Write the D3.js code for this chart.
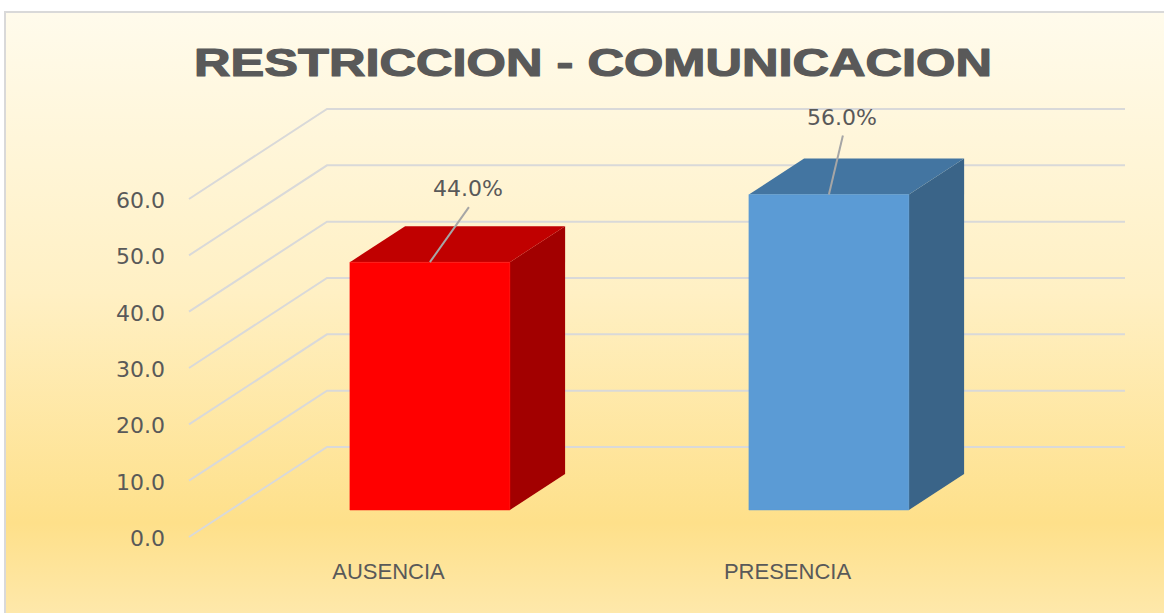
<!DOCTYPE html>
<html>
<head>
<meta charset="utf-8">
<script src="https://cdn.jsdelivr.net/npm/d3@7"></script>
<style>
  html, body { margin: 0; padding: 0; background: #fff; }
  svg { display: block; }
</style>
</head>
<body>
<div id="chart"></div>
<script>
// data
var categories = ["AUSENCIA", "PRESENCIA"]
var values = [44.0, 56.0]
var tickValues = [0, 10, 20, 30, 40, 50, 60]
var titleText = "RESTRICCION - COMUNICACION"

// colours for each bar: front, top, side
var faceColors = [
  { front: "#ff0000", top: "#c00000", side: "#a20000" },
  { front: "#5b9bd5", top: "#4375a1", side: "#3a6488" }
]
// manual nudges of the data labels (like the dragged labels in the original)
var labelNudge = [[38, -66], [13, -70]]

var W = 1164, H = 613
var svg = d3.select("#chart")
  .append("svg")
  .attr("width", W)
  .attr("height", H)

// background gradient
var defs = svg.append("defs")
var grad = defs.append("linearGradient")
  .attr("id", "bg")
  .attr("x1", 0).attr("y1", 0).attr("x2", 0).attr("y2", 1)
grad.append("stop").attr("offset", "0%").attr("stop-color", "#fffbec")
grad.append("stop").attr("offset", "45%").attr("stop-color", "#fff0c4")
grad.append("stop").attr("offset", "82%").attr("stop-color", "#fee08a")
grad.append("stop").attr("offset", "100%").attr("stop-color", "#feeab2")

svg.append("rect")
  .attr("x", 5).attr("y", 12)
  .attr("width", W + 10).attr("height", H + 10)
  .attr("fill", "url(#bg)")
  .attr("stroke", "#d9d9d9")
  .attr("stroke-width", 2)

// pseudo 3d: front plane scales plus a depth offset
var depthX = 138, depthY = -90
var y = d3.scaleLinear().domain([0, 60]).range([537, 199])
var x = d3.scaleBand().domain(categories).range([189, 987])
function proj(px, v, d) {
  return [px + d * depthX, y(v) + d * depthY]
}

// gridlines: side wall + back wall
var grid = svg.append("g")
grid.selectAll("path")
  .data(tickValues)
  .enter()
  .append("path")
  .attr("d", function (t) {
    return d3.line()([proj(x.range()[0], t, 0), proj(x.range()[0], t, 1), proj(x.range()[1], t, 1)])
  })
  .attr("fill", "none")
  .attr("stroke", "#d9d9d9")
  .attr("stroke-width", 2)

// y tick labels
svg.append("g").selectAll("text")
  .data(tickValues)
  .enter()
  .append("text")
  .attr("x", 165)
  .attr("y", function (t) { return y(t) + 9 })
  .attr("text-anchor", "end")
  .attr("font-family", "DejaVu Sans")
  .attr("font-size", 22)
  .attr("fill", "#595959")
  .text(function (t) { return d3.format(".1f")(t) })

// bars
var d0 = 0.3, d1 = 0.7, barW = 160
var bars = svg.append("g").selectAll("g")
  .data(categories)
  .enter()
  .append("g")

bars.each(function (c, i) {
  var g = d3.select(this)
  var cx = x(c) + x.bandwidth() / 2
  var x0 = cx - barW / 2, x1 = cx + barW / 2
  var v = values[i]
  var col = faceColors[i]
  var front = [proj(x0, 0, d0), proj(x1, 0, d0), proj(x1, v, d0), proj(x0, v, d0)]
  var top = [proj(x0, v, d0), proj(x1, v, d0), proj(x1, v, d1), proj(x0, v, d1)]
  var side = [proj(x1, 0, d0), proj(x1, 0, d1), proj(x1, v, d1), proj(x1, v, d0)]
  g.append("polygon").attr("points", side.join(" ")).attr("fill", col.side)
  g.append("polygon").attr("points", top.join(" ")).attr("fill", col.top)
  g.append("polygon").attr("points", front.join(" ")).attr("fill", col.front)
    .attr("stroke", col.front).attr("stroke-width", 0.5)
})

// data labels with leader lines
bars.each(function (c, i) {
  var g = d3.select(this)
  var cx = x(c) + x.bandwidth() / 2
  var p = proj(cx, values[i], d0)
  var lx = p[0] + labelNudge[i][0]
  var ly = p[1] + labelNudge[i][1]
  g.append("line")
    .attr("x1", p[0]).attr("y1", p[1])
    .attr("x2", lx + 1).attr("y2", ly + 11)
    .attr("stroke", "#a6a6a6")
    .attr("stroke-width", 2)
  g.append("text")
    .attr("x", lx).attr("y", ly)
    .attr("text-anchor", "middle")
    .attr("font-family", "DejaVu Sans")
    .attr("font-size", 22)
    .attr("fill", "#595959")
    .text(d3.format(".1f")(values[i]) + "%")
})

// category labels
svg.append("g").selectAll("text")
  .data(categories)
  .enter()
  .append("text")
  .attr("x", function (c) { return x(c) + x.bandwidth() / 2 })
  .attr("y", 579)
  .attr("text-anchor", "middle")
  .attr("font-family", "Liberation Sans")
  .attr("font-size", 22)
  .attr("fill", "#595959")
  .text(function (c) { return c })

// title
svg.append("text")
  .attr("x", 593)
  .attr("y", 76)
  .attr("text-anchor", "middle")
  .attr("font-family", "Liberation Sans")
  .attr("font-weight", "bold")
  .attr("font-size", 39)
  .attr("textLength", 798)
  .attr("lengthAdjust", "spacingAndGlyphs")
  .attr("fill", "#595959")
  .attr("stroke", "#595959")
  .attr("stroke-width", 1.2)
  .attr("stroke-linejoin", "round")
  .text(titleText)
</script>
</body>
</html>
